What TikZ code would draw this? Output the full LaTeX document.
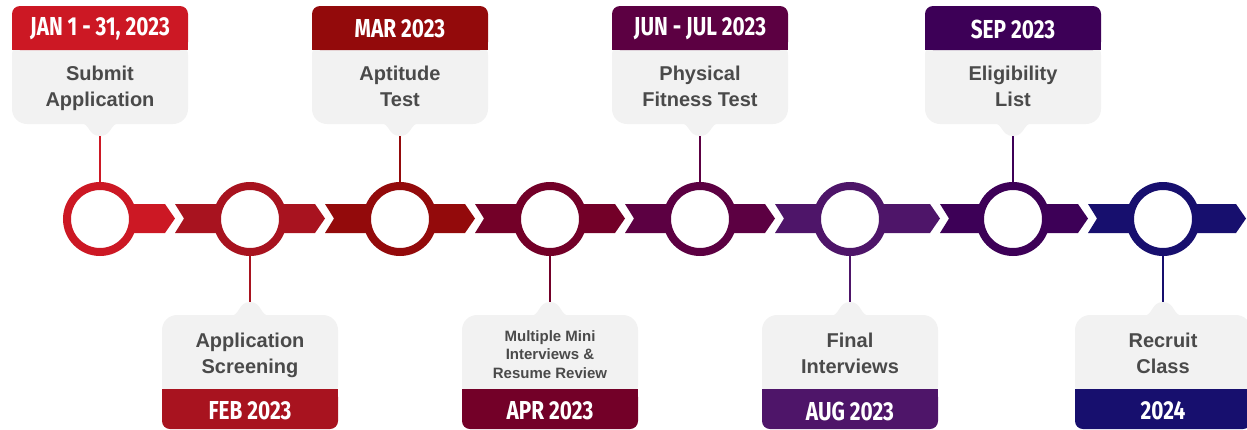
\documentclass[tikz,border=0pt]{standalone}
\usepackage{fontspec}
\setmainfont{Liberation Sans}
\newfontfamily\datefont[FakeStretch=0.8]{Fira Sans}
\usepackage{tikz}
\definecolor{col1}{HTML}{CC1824}
\definecolor{col2}{HTML}{A8131F}
\definecolor{col3}{HTML}{930A0B}
\definecolor{col4}{HTML}{730028}
\definecolor{col5}{HTML}{5C0042}
\definecolor{col6}{HTML}{4E1569}
\definecolor{col7}{HTML}{3D0057}
\definecolor{col8}{HTML}{170F6E}
\definecolor{boxfill}{HTML}{F2F2F2}
\definecolor{textgray}{HTML}{4A4A4A}
\tikzstyle{ring} = [circle, minimum size=66pt, inner sep=0pt, line width=8pt, fill=white]
\tikzstyle{datetext} = [text=white, font=\datefont\bfseries\fontsize{26}{30}\selectfont, inner sep=0pt]
\tikzstyle{steptext} = [text=textgray, align=center, font=\bfseries\fontsize{20}{26}\selectfont, inner sep=0pt,
                        execute at begin node=\strut, execute at end node=\strut]
\tikzstyle{smalltext} = [steptext, font=\bfseries\fontsize{15}{18.5}\selectfont]
\tikzstyle{link} = [line width=2pt]

\begin{document}
\begin{tikzpicture}[x=1pt, y=-1pt]
        \useasboundingbox (0,0) rectangle (1247,429);

        % boxes above the line
        \foreach \x/\c in {100/col1, 400/col3, 700/col5, 1013/col7} {
            \fill [boxfill, rounded corners=15pt] ({\x-88},40) rectangle ({\x+88},124);
            \fill [\c, rounded corners=8pt] ({\x-88},6) rectangle ({\x+88},50);
            \fill [\c] ({\x-88},30) rectangle ({\x+88},50);
            \fill [boxfill] ({\x-20},123) .. controls ({\x-10},123) and ({\x-12},136) .. (\x,136)
                .. controls ({\x+12},136) and ({\x+10},123) .. ({\x+20},123) -- cycle;
        }
        % boxes below the line
        \foreach \x/\c in {250/col2, 550/col4, 850/col6, 1163/col8} {
            \fill [boxfill, rounded corners=15pt] ({\x-88},315) rectangle ({\x+88},400);
            \fill [\c, rounded corners=8pt] ({\x-88},389) rectangle ({\x+88},429);
            \fill [\c] ({\x-88},389) rectangle ({\x+88},410);
            \fill [boxfill] ({\x-20},316) .. controls ({\x-10},316) and ({\x-12},302) .. (\x,302)
                .. controls ({\x+12},302) and ({\x+10},316) .. ({\x+20},316) -- cycle;
        }

        % the band
        \foreach \a/\b/\c in {100/175/col1, 175/325/col2, 325/475/col3, 475/625/col4,
                              625/775/col5, 775/940/col6, 940/1088/col7, 1088/1246/col8}
            \fill [\c] (\a,204) -- ({\b-10},204) -- (\b,218.5) -- ({\b-10},233) -- (\a,233) -- ({\a+9},218.5) -- cycle;

        \node (c1) [ring, draw=col1] at (100,219) {};
        \node (c2) [ring, draw=col2] at (250,219) {};
        \node (c3) [ring, draw=col3] at (400,219) {};
        \node (c4) [ring, draw=col4] at (550,219) {};
        \node (c5) [ring, draw=col5] at (700,219) {};
        \node (c6) [ring, draw=col6] at (850,219) {};
        \node (c7) [ring, draw=col7] at (1013,219) {};
        \node (c8) [ring, draw=col8] at (1163,219) {};

        \node (d1) [datetext] at (100,29) {JAN 1 - 31, 2023};
        \node (d3) [datetext] at (400,29) {MAR 2023};
        \node (d5) [datetext] at (700,29) {JUN - JUL 2023};
        \node (d7) [datetext] at (1013,29) {SEP 2023};
        \node (d2) [datetext] at (250,411) {FEB 2023};
        \node (d4) [datetext] at (550,411) {APR 2023};
        \node (d6) [datetext] at (850,411) {AUG 2023};
        \node (d8) [datetext] at (1163,411) {2024};

        \node (t1) [steptext] at (100,90) {Submit\\Application};
        \node (t3) [steptext] at (400,90) {Aptitude\\Test};
        \node (t5) [steptext] at (700,90) {Physical\\Fitness Test};
        \node (t7) [steptext] at (1013,90) {Eligibility\\List};
        \node (t2) [steptext] at (250,357) {Application\\Screening};
        \node (t4) [smalltext] at (550,357) {Multiple Mini\\Interviews \&\\Resume Review};
        \node (t6) [steptext] at (850,357) {Final\\Interviews};
        \node (t8) [steptext] at (1163,357) {Recruit\\Class};

        \coordinate (p1) at (100,136);
        \coordinate (p3) at (400,136);
        \coordinate (p5) at (700,136);
        \coordinate (p7) at (1013,136);
        \coordinate (p2) at (250,302);
        \coordinate (p4) at (550,302);
        \coordinate (p6) at (850,302);
        \coordinate (p8) at (1163,302);

        \draw [link, col1] (c1.north) -- (p1);
        \draw [link, col3] (c3.north) -- (p3);
        \draw [link, col5] (c5.north) -- (p5);
        \draw [link, col7] (c7.north) -- (p7);
        \draw [link, col2] (c2.south) -- (p2);
        \draw [link, col4] (c4.south) -- (p4);
        \draw [link, col6] (c6.south) -- (p6);
        \draw [link, col8] (c8.south) -- (p8);
    \end{tikzpicture}
\end{document}
